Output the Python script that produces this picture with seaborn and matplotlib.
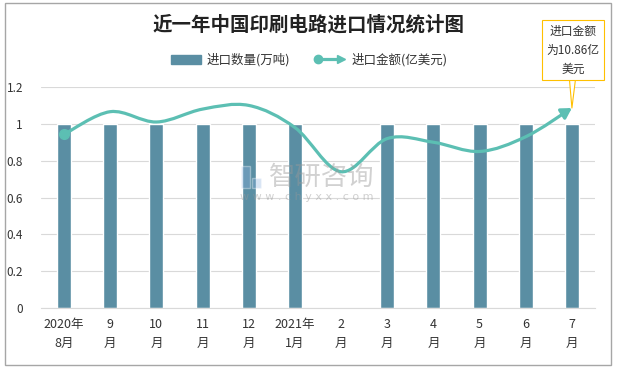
import numpy as np
import pandas as pd
import seaborn as sns
import matplotlib.pyplot as plt
from matplotlib.path import Path
from matplotlib.patches import FancyArrowPatch, Rectangle, Patch
from matplotlib.legend_handler import HandlerBase
from matplotlib.lines import Line2D

# data
months = ['2020年\n8月', '9\n月', '10\n月', '11\n月', '12\n月', '2021年\n1月',
          '2\n月', '3\n月', '4\n月', '5\n月', '6\n月', '7\n月']
qty = [1, 1, 1, 1, 1, 1, 0, 1, 1, 1, 1, 1]          # 进口数量(万吨)
amount = [9.43, 10.66, 10.1, 10.8, 11.0, 9.8, 7.4, 9.2, 9.0, 8.5, 9.3, 10.86]  # 进口金额(亿美元)

bar_color = '#5A8EA3'
line_color = '#5CBFB3'

sns.set_style('white')
plt.rcParams['font.family'] = ['Noto Sans CJK SC', 'DejaVu Sans']

fig = plt.figure(figsize=(6.18, 3.68), dpi=100)
ax = fig.add_axes([41 / 618, 60 / 368, 554 / 618, 221 / 368])

df = pd.DataFrame({'month': months, 'qty': qty})
sns.barplot(data=df, x='month', y='qty', color=bar_color, width=0.3,
            saturation=1, ax=ax)
ax.set_ylim(0, 1.2)
ax.set_xlim(-0.5, len(months) - 0.5)
ax.set_yticks(np.arange(0, 1.21, 0.2))
ax.set_yticklabels(['0', '0.2', '0.4', '0.6', '0.8', '1', '1.2'], fontsize=8.5, color='#333333')
for lab in ax.get_xticklabels():
    lab.set_linespacing(1.6)
ax.tick_params(axis='x', labelsize=9, colors='#333333', length=0, pad=7)
ax.tick_params(axis='y', length=0, pad=13)
ax.set_xlabel('')
ax.set_ylabel('')
ax.grid(axis='y', color='#D9D9D9', lw=0.8)
ax.set_axisbelow(True)
for s in ['left', 'right', 'top']:
    ax.spines[s].set_visible(False)
ax.spines['bottom'].set_color('#D9D9D9')

# watermark
fig.patches.append(Rectangle((241 / 618, 1 - 188 / 368), 9 / 618, 22 / 368, fc='#8DB3E2',
                             alpha=0.35, transform=fig.transFigure, figure=fig, zorder=0))
fig.patches.append(Rectangle((252 / 618, 1 - 188 / 368), 9 / 618, 10 / 368, fc='#8DB3E2',
                             alpha=0.35, transform=fig.transFigure, figure=fig, zorder=0))
fig.text(269 / 618, 1 - 177 / 368, '智研咨询', ha='left', va='center', fontsize=19,
         color='#999999', alpha=0.45)
fig.text(240 / 618, 1 - 197 / 368, 'w w w . c h y x x . c o m', ha='left', va='center',
         fontsize=8, color='#999999', alpha=0.45, family='DejaVu Sans')

# amount on a hidden secondary axis, smoothed like the source
ax2 = ax.twinx()
ax2.set_ylim(0, 12)
ax2.axis('off')
x = np.arange(len(amount))
pts = np.column_stack([x, amount])
ext = np.vstack([pts[0], pts, pts[-1]])
verts = [tuple(pts[0])]
codes = [Path.MOVETO]
for i in range(len(pts) - 1):
    p0, p1, p2, p3 = ext[i], ext[i + 1], ext[i + 2], ext[i + 3]
    c1 = p1 + (p2 - p0) / 6
    c2 = p2 - (p3 - p1) / 6
    verts += [tuple(c1), tuple(c2), tuple(p2)]
    codes += [Path.CURVE4] * 3
arrow = FancyArrowPatch(path=Path(verts, codes), arrowstyle='-|>,head_length=6,head_width=3.5',
                        color=line_color, lw=2.3, mutation_scale=1,
                        transform=ax2.transData, zorder=5)
ax2.add_patch(arrow)
ax2.plot(x[0], amount[0], 'o', color=line_color, ms=7, zorder=6)

# callout for the last value
ax2.annotate('进口金额\n为10.86亿\n美元', xy=(x[-1], amount[-1]), xycoords='data',
             xytext=(573 / 618, 1 - 50 / 368), textcoords='figure fraction',
             ha='center', va='center', fontsize=8.5, color='#333333', linespacing=1.6,
             bbox=dict(boxstyle='square,pad=0.35', fc='white', ec='#FFC000', lw=0.8),
             arrowprops=dict(arrowstyle='wedge,tail_width=0.5', fc='white', ec='#FFC000',
                             lw=0.8, shrinkA=0, shrinkB=0),
             annotation_clip=False, zorder=10)

fig.text(0.5, 1 - 25 / 368, '近一年中国印刷电路进口情况统计图', ha='center', va='center',
         fontsize=14, fontweight='bold', color='#222222')


class ArrowLineHandler(HandlerBase):
    def create_artists(self, legend, orig, xd, yd, width, height, fontsize, trans):
        y = height / 2 - yd
        ln = Line2D([-xd, width - xd - 4], [y, y], color=line_color, lw=2.3, transform=trans)
        dot = Line2D([-xd + 2], [y], marker='o', ms=6, color=line_color, transform=trans)
        head = Line2D([width - xd - 3], [y], marker='>', ms=6, color=line_color, transform=trans)
        return [ln, dot, head]


handles = [Patch(color=bar_color), Line2D([], [], color=line_color)]
fig.legend(handles, ['进口数量(万吨)', '进口金额(亿美元)'], loc='center',
           bbox_to_anchor=(0.5, 1 - 60 / 368), ncol=2, frameon=False, fontsize=9,
           handler_map={handles[1]: ArrowLineHandler()}, handlelength=2.4,
           columnspacing=2, handletextpad=0.5, labelcolor='#333333')

fig.patches.append(Rectangle((5 / 618, 3 / 368), 606 / 618, 362 / 368, fill=False,
                             ec='#A6A6A6', lw=1, transform=fig.transFigure, figure=fig))

fig.savefig('out.png', dpi=100)
